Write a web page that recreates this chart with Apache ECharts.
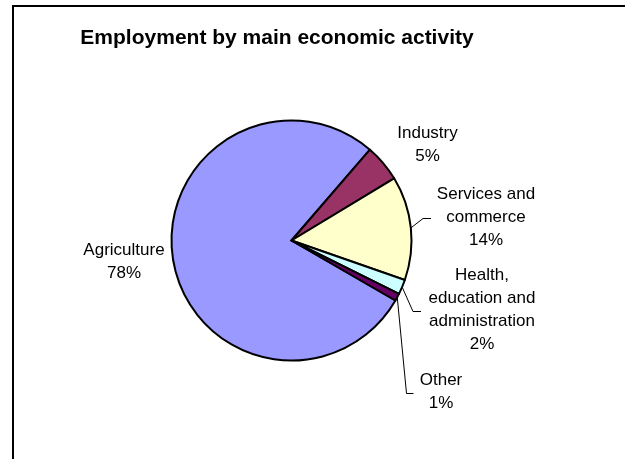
<!DOCTYPE html>
<html>
<head>
<meta charset="utf-8">
<script src="https://cdn.jsdelivr.net/npm/echarts@6/dist/echarts.min.js"></script>
<style>
  html, body { margin: 0; padding: 0; background: #ffffff; }
  #chart { width: 625px; height: 459px; }
</style>
</head>
<body>
<div id="chart"></div>
<script>
// Share of employment by main economic activity (percent)
const categories = [
  'Agriculture',
  'Industry',
  'Services and\ncommerce',
  'Health,\neducation and\nadministration',
  'Other'
];
const shares = [78, 5, 14, 2, 1];
const sliceColors = ['#9999FF', '#993366', '#FFFFCC', '#CCFFFF', '#660066'];

// Label block centres and leader-line elbow/end points (pixels)
const labelCentres = [[124, 262], [427.5, 145], [486, 217], [482, 310], [441, 392]];
const leaderPaths = [null, null, [[423, 218.5], [431, 218.5]], [[413, 311.5], [421, 311.5]], [[406.5, 393.5], [413.5, 393.5]]];

const chart = echarts.init(document.getElementById('chart'), null, { renderer: 'canvas' });

const pieData = categories.map((name, i) => ({
  name: name,
  value: shares[i],
  itemStyle: { color: sliceColors[i] },
  labelLine: { show: leaderPaths[i] !== null }
}));

chart.setOption({
  backgroundColor: '#ffffff',
  animation: false,
  title: {
    text: 'Employment by main economic activity',
    left: 272,
    top: 23,
    textAlign: 'center',
    textStyle: {
      fontFamily: 'Liberation Sans, Arial, sans-serif',
      fontSize: 21,
      fontWeight: 'bold',
      color: '#000000'
    }
  },
  graphic: [{
    type: 'rect',
    silent: true,
    shape: { x: 13, y: 6, width: 1000, height: 1000 },
    style: { fill: 'none', stroke: '#000000', lineWidth: 2 }
  }],
  series: [{
    type: 'pie',
    center: [291.5, 240.5],
    radius: 120,
    startAngle: -30,
    clockwise: true,
    avoidLabelOverlap: false,
    emphasis: { disabled: true },
    itemStyle: { borderColor: '#000000', borderWidth: 2 },
    label: {
      show: true,
      position: 'outside',
      formatter: '{b}\n{d}%',
      fontFamily: 'Liberation Sans, Arial, sans-serif',
      fontSize: 17,
      lineHeight: 23,
      color: '#000000',
      align: 'center'
    },
    labelLine: {
      show: true,
      lineStyle: { color: '#000000', width: 1 }
    },
    labelLayout: function (params) {
      const i = params.dataIndex;
      const out = {
        x: labelCentres[i][0],
        y: labelCentres[i][1],
        align: 'center',
        verticalAlign: 'middle'
      };
      if (leaderPaths[i] && params.labelLinePoints) {
        out.labelLinePoints = [params.labelLinePoints[0]].concat(leaderPaths[i]);
      }
      return out;
    },
    data: pieData
  }]
});
</script>
</body>
</html>
